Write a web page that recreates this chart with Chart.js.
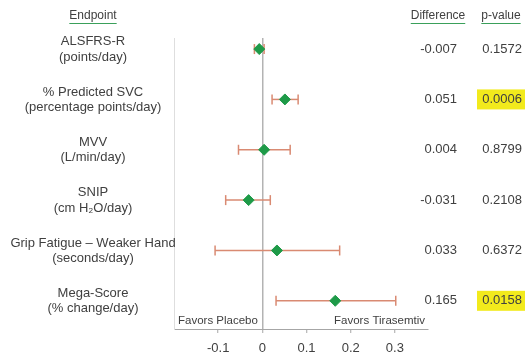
<!DOCTYPE html>
<html>
<head>
<meta charset="utf-8">
<script src="https://cdn.jsdelivr.net/npm/chart.js@4/dist/chart.umd.min.js"></script>
<style>
html,body{margin:0;padding:0;background:#fff;}
#wrap{width:525px;height:359px;position:relative;}
</style>
</head>
<body>
<div id="wrap"><canvas id="c"></canvas></div>
<script>
const endpoints = [
  ["ALSFRS-R", "(points/day)"],
  ["% Predicted SVC", "(percentage points/day)"],
  ["MVV", "(L/min/day)"],
  ["SNIP", "(cm H\u2082O/day)"],
  ["Grip Fatigue \u2013 Weaker Hand", "(seconds/day)"],
  ["Mega-Score", "(% change/day)"]
];
const differences = [-0.007, 0.051, 0.004, -0.031, 0.033, 0.165];
const ciLower = [-0.018, 0.022, -0.054, -0.083, -0.107, 0.031];
const ciUpper = [0.004, 0.081, 0.063, 0.018, 0.175, 0.302];
const diffLabels = ["-0.007", "0.051", "0.004", "-0.031", "0.033", "0.165"];
const pValues = ["0.1572", "0.0006", "0.8799", "0.2108", "0.6372", "0.0158"];
const xTicks = [-0.1, 0, 0.1, 0.2, 0.3];

const TEXT = '#404040';
const FONT = '"Liberation Sans", Arial, sans-serif';
const BAR = '#d98a72';
const GREEN = '#1e9a48';

const datasets = [];
datasets.push({
  label: 'Difference',
  data: differences.map((d, i) => ({x: d, y: i})),
  pointStyle: 'rectRot',
  pointRadius: 5.5,
  backgroundColor: GREEN,
  borderColor: GREEN,
  borderWidth: 1,
  showLine: false,
  order: 0
});
differences.forEach((d, i) => {
  datasets.push({
    label: 'CI' + i,
    data: [{x: ciLower[i], y: i}, {x: ciUpper[i], y: i}],
    showLine: true,
    borderColor: BAR,
    borderWidth: 1.5,
    pointStyle: 'line',
    rotation: 90,
    pointRadius: 5,
    pointBorderColor: BAR,
    pointBorderWidth: 1.5,
    order: 1
  });
});

const textPlugin = {
  id: 'texts',
  afterDraw(chart) {
    const ctx = chart.ctx;
    const ys = chart.scales.y;
    const ca = chart.chartArea;
    ctx.save();
    // headers
    ctx.font = '12px ' + FONT;
    ctx.fillStyle = TEXT;
    ctx.textBaseline = 'middle';
    const headers = [["Endpoint", 93], ["Difference", 438], ["p-value", 501]];
    headers.forEach(([t, x]) => {
      ctx.textAlign = 'center';
      ctx.fillText(t, x, 16);
      const w = ctx.measureText(t).width;
      ctx.strokeStyle = '#3aa05a';
      ctx.lineWidth = 1;
      ctx.beginPath();
      ctx.moveTo(x - w / 2, 23.5);
      ctx.lineTo(x + w / 2, 23.5);
      ctx.stroke();
    });
    // rows
    ctx.font = '13px ' + FONT;
    endpoints.forEach((lines, i) => {
      const y = ys.getPixelForValue(i);
      ctx.fillStyle = TEXT;
      ctx.textAlign = 'center';
      ctx.fillText(lines[0], 93, y - 7.5);
      ctx.fillText(lines[1], 93, y + 8);
      ctx.textAlign = 'right';
      ctx.fillText(diffLabels[i], 457, y);
      if (parseFloat(pValues[i]) < 0.05) {
        ctx.fillStyle = '#f2ea1c';
        ctx.fillRect(477, y - 10, 48, 20);
        ctx.fillStyle = TEXT;
      }
      ctx.textAlign = 'right';
      ctx.fillText(pValues[i], 522, y);
    });
    // favors labels
    ctx.font = '11.5px ' + FONT;
    ctx.fillStyle = TEXT;
    ctx.textAlign = 'left';
    ctx.fillText('Favors Placebo', ca.left + 4, ca.bottom - 8);
    ctx.textAlign = 'right';
    ctx.fillText('Favors Tirasemtiv', ca.right - 3, ca.bottom - 8);
    ctx.restore();
  }
};

new Chart(document.getElementById('c'), {
  type: 'scatter',
  data: {datasets},
  options: {
    responsive: true,
    maintainAspectRatio: false,
    animation: false,
    layout: {padding: {left: 174, right: 97, top: 38, bottom: 0}},
    plugins: {legend: {display: false}, tooltip: {enabled: false}},
    scales: {
      x: {
        type: 'linear',
        min: -0.2,
        max: 0.375,
        afterBuildTicks: s => { s.ticks = xTicks.map(v => ({value: v})); },
        afterFit: s => { s.height = 30; },
        ticks: {
          color: TEXT,
          font: {family: FONT, size: 13},
          padding: 8,
          callback: v => String(v)
        },
        grid: {
          color: c => (c.tick && c.tick.value === 0) ? '#b3b3b3' : 'rgba(0,0,0,0)',
          lineWidth: 1.5,
          tickColor: '#a6a6a6',
          tickLength: 4,
          tickWidth: 1
        },
        border: {display: true, color: '#a6a6a6', width: 1}
      },
      y: {
        type: 'linear',
        min: -0.22,
        max: 5.56,
        reverse: true,
        ticks: {display: false},
        afterFit: s => { s.width = 0; },
        grid: {display: false},
        border: {display: true, color: '#dedede', width: 1}
      }
    }
  },
  plugins: [textPlugin]
});
</script>
</body>
</html>
